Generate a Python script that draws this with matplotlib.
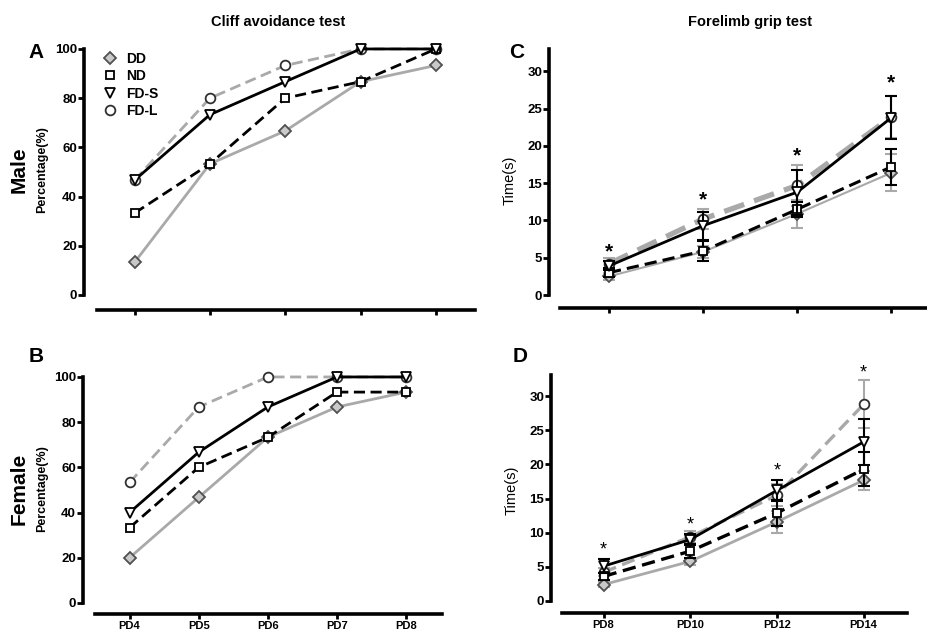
import matplotlib.pyplot as plt
import numpy as np

plt.rcParams['font.family'] = ['Liberation Sans Narrow', 'Liberation Sans', 'DejaVu Sans']

groups = ['DD', 'ND', 'FD-S', 'FD-L']
days_cliff = ['PD4', 'PD5', 'PD6', 'PD7', 'PD8']
days_grip = ['PD8', 'PD10', 'PD12', 'PD14']

# A: male cliff avoidance (%)
male_cliff = {
    'DD':   [13.3, 53.3, 66.7, 86.7, 93.3],
    'ND':   [33.3, 53.3, 80.0, 86.7, 100.0],
    'FD-S': [46.7, 73.3, 86.7, 100.0, 100.0],
    'FD-L': [46.7, 80.0, 93.3, 100.0, 100.0],
}
# B: female cliff avoidance (%)
female_cliff = {
    'DD':   [20.0, 46.7, 73.3, 86.7, 93.3],
    'ND':   [33.3, 60.0, 73.3, 93.3, 93.3],
    'FD-S': [40.0, 66.7, 86.7, 100.0, 100.0],
    'FD-L': [53.3, 86.7, 100.0, 100.0, 100.0],
}
# C: male forelimb grip time (s) and SEM
male_grip = {
    'DD':   [2.5, 5.8, 10.9, 16.4],
    'ND':   [3.0, 5.9, 11.5, 17.2],
    'FD-S': [3.9, 9.3, 13.8, 23.8],
    'FD-L': [4.2, 10.2, 14.7, 23.9],
}
male_grip_err = {
    'DD':   [0.5, 0.8, 1.9, 2.5],
    'ND':   [0.6, 1.4, 1.0, 2.4],
    'FD-S': [0.6, 1.9, 3.0, 2.9],
    'FD-L': [0.7, 1.3, 2.7, 2.8],
}
male_star = [5.8, 12.8, 18.6, 28.4]
# D: female forelimb grip time (s) and SEM
female_grip = {
    'DD':   [2.4, 5.8, 11.6, 17.7],
    'ND':   [3.6, 7.3, 12.9, 19.3],
    'FD-S': [5.1, 9.0, 16.2, 23.3],
    'FD-L': [4.2, 9.4, 15.5, 28.8],
}
female_grip_err = {
    'DD':   [0.4, 0.5, 1.6, 1.4],
    'ND':   [0.5, 1.0, 1.9, 2.5],
    'FD-S': [1.0, 0.8, 1.5, 3.4],
    'FD-L': [0.6, 0.9, 1.6, 3.5],
}
female_star = [7.4, 11.2, 19.0, 33.4]

style = {
    'DD':   dict(color='#a9a9a9', ls='-', marker='D', ms=6, mfc='#c9c9c9', mec='#505050'),
    'ND':   dict(color='black', ls=(0, (4, 2)), marker='s', ms=6, mfc='white', mec='black'),
    'FD-S': dict(color='black', ls='-', marker='v', ms=7, mfc='white', mec='black'),
    'FD-L': dict(color='#a9a9a9', ls=(0, (4, 2)), marker='o', ms=7, mfc='white', mec='#303030'),
}
draw_order = ['FD-L', 'DD', 'ND', 'FD-S']

W, H = 928, 630
fig = plt.figure(figsize=(W / 100, H / 100), dpi=100)


def make_axes(x0, x1, y_top, y_bot):
    return fig.add_axes([x0 / W, 1 - y_bot / H, (x1 - x0) / W, (y_bot - y_top) / H])


def style_axes(ax, ylim, ytop, yticks, xlim, xticks, xlabels, off_px):
    ax.set_ylim(*ylim)
    ax.set_xlim(*xlim)
    for s in ['top', 'right']:
        ax.spines[s].set_visible(False)
    ax.spines['left'].set_bounds(0, ytop)
    ax.spines['left'].set_position(('outward', off_px * 0.72))
    for s in ['left', 'bottom']:
        ax.spines[s].set_linewidth(2.6)
    ax.set_yticks(yticks)
    ax.set_xticks(xticks)
    ax.set_xticklabels(xlabels)
    ax.tick_params(axis='both', width=2, length=4)
    ax.tick_params(axis='x', labelsize=8, pad=1.5, length=3.5)
    ax.tick_params(axis='y', labelsize=9.5, pad=1)
    for lab in ax.get_yticklabels() + ax.get_xticklabels():
        lab.set_fontweight('bold')


def draw_cliff(ax, data, lw=2.0):
    x = np.arange(len(days_cliff))
    for g in draw_order:
        st = style[g]
        ax.plot(x, data[g], lw=lw, mew=1.3, clip_on=False, label=g, **st)


def draw_grip(ax, data, err, stars, lws, star_kw):
    x = np.arange(len(days_grip))
    for g in draw_order:
        st = style[g]
        ax.errorbar(x, data[g], yerr=err[g], fmt='none', ecolor=st['color'],
                    elinewidth=1.5, capsize=4, capthick=1.5, clip_on=False)
        ax.plot(x, data[g], lw=lws[g], mew=1.3, clip_on=False, **st)
    for xi, yi in zip(x, stars):
        ax.text(xi, yi, '*', ha='center', va='center', **star_kw)


# Panel A
axA = make_axes(97, 475, 46.5, 310)
draw_cliff(axA, male_cliff)
style_axes(axA, (-6.1, 101), 100, np.arange(0, 101, 20), (-0.5, 4.52),
           np.arange(5), [''] * 5, 13)
handles = [plt.Line2D([], [], ls='none', mew=1.3, **{k: v for k, v in style[g].items() if k != 'ls'})
           for g in groups]
axA.legend(handles, groups, loc='upper left', bbox_to_anchor=(98 / W, 1 - 46 / H),
           bbox_transform=fig.transFigure, frameon=False, handlelength=1.0,
           handletextpad=0.6, labelspacing=0.25, borderaxespad=0,
           prop={'weight': 'bold', 'size': 10})

# Panel B
axB = make_axes(95, 442, 374.7, 614)
draw_cliff(axB, female_cliff)
style_axes(axB, (-4.9, 101), 100, np.arange(0, 101, 20), (-0.5, 4.52),
           np.arange(5), days_cliff, 12)

# Panel C
axC = make_axes(560, 931, 49, 308)
draw_grip(axC, male_grip, male_grip_err, male_star,
          {'DD': 1.5, 'ND': 2.2, 'FD-S': 2.0, 'FD-L': 3.8},
          dict(fontsize=15, fontweight='bold'))
style_axes(axC, (-1.74, 33), 33, np.arange(0, 31, 5), (-0.52, 3.42),
           np.arange(4), [''] * 4, 11)

# Panel D
axD = make_axes(562, 907, 375, 613)
draw_grip(axD, female_grip, female_grip_err, female_star,
          {'DD': 2.0, 'ND': 2.4, 'FD-S': 2.0, 'FD-L': 2.4},
          dict(fontsize=13))
style_axes(axD, (-1.76, 33.1), 33.1, np.arange(0, 31, 5), (-0.48, 3.5),
           np.arange(4), days_grip, 11)

# figure texts
def ftxt(x, y, s, **kw):
    fig.text(x / W, 1 - y / H, s, **kw)

ftxt(278, 22, 'Cliff avoidance test', ha='center', va='center', fontsize=10.5, fontweight='bold',
     family=['Liberation Sans', 'DejaVu Sans'])
ftxt(750, 22, 'Forelimb grip test', ha='center', va='center', fontsize=10.5, fontweight='bold',
     family=['Liberation Sans', 'DejaVu Sans'])
for x, y, s in [(36, 52, 'A'), (36, 357, 'B'), (517, 52, 'C'), (520, 357, 'D')]:
    ftxt(x, y, s, ha='center', va='center', fontsize=15, fontweight='bold',
         family=['Liberation Sans', 'DejaVu Sans'])
ftxt(19, 170, 'Male', ha='center', va='center', rotation=90, fontsize=15, fontweight='bold',
     family=['Liberation Sans', 'DejaVu Sans'])
ftxt(42, 170, 'Percentage(%)', ha='center', va='center', rotation=90, fontsize=9, fontweight='bold')
ftxt(19, 489, 'Female', ha='center', va='center', rotation=90, fontsize=15, fontweight='bold',
     family=['Liberation Sans', 'DejaVu Sans'])
ftxt(42, 489, 'Percentage(%)', ha='center', va='center', rotation=90, fontsize=9, fontweight='bold')
ftxt(510, 180, 'Time(s)', ha='center', va='center', rotation=90, fontsize=10.5)
ftxt(512, 490, 'Time(s)', ha='center', va='center', rotation=90, fontsize=10.5)

fig.savefig('out.png', dpi=100)
